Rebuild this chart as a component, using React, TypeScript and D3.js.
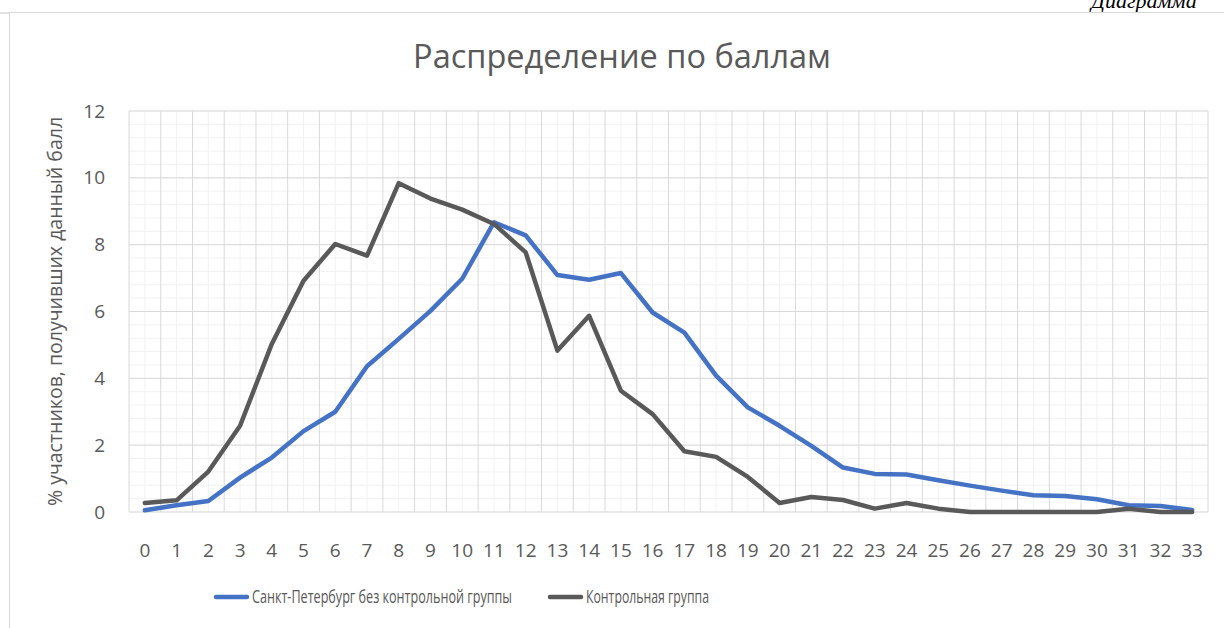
import React from "react";
import * as d3 from "d3";

const categories = Array.from({ length: 34 }, (_, i) => String(i));
const spbValues = [0.05, 0.2, 0.33, 1.03, 1.63, 2.42, 3.0, 4.36, 5.18, 6.02, 6.98, 8.67, 8.28, 7.09, 6.95, 7.15, 5.97, 5.37, 4.08, 3.13, 2.58, 1.98, 1.33, 1.14, 1.12, 0.95, 0.79, 0.64, 0.5, 0.48, 0.38, 0.2, 0.18, 0.06];
const controlValues = [0.27, 0.35, 1.21, 2.58, 5.03, 6.92, 8.02, 7.67, 9.84, 9.38, 9.05, 8.62, 7.77, 4.83, 5.87, 3.63, 2.93, 1.82, 1.65, 1.05, 0.27, 0.45, 0.36, 0.1, 0.27, 0.1, 0, 0, 0, 0, 0, 0.1, 0, 0];
const yTicks = [0, 2, 4, 6, 8, 10, 12];
const seriesNames = ["Санкт-Петербург без контрольной группы", "Контрольная группа"];
const seriesColors = ["#4472C4", "#595959"];

export default function App() {
  const W = 1224, H = 628;
  const left = 129, right = 1208, top = 111, bottom = 512;
  const x = d3.scaleBand<string>().domain(categories).range([left, right]);
  const y = d3.scaleLinear().domain([0, 12]).range([bottom, top]);
  const cx = (c: string) => (x(c) as number) + x.bandwidth() / 2;
  const line = d3.line<number>().x((_, i) => cx(categories[i])).y((d) => y(d));
  const minorY = d3.range(0, 12.0001, 0.4);
  const font = "'Open Sans', sans-serif";
  const textColor = "#595959";
  const legendX = [214, 548];
  const legendTextLen = [260, 123];

  return (
    <svg width={W} height={H} style={{ position: "absolute", left: 0, top: 0, background: "#fff" }}>
      <rect x={0} y={0} width={W} height={H} fill="#fff" />
      <text x={1091} y={8} fontFamily="'Liberation Serif', serif" fontStyle="italic" fontSize={22} fill="#000">Диаграмма</text>
      <line x1={0} x2={W} y1={13} y2={13} stroke="#d9d9d9" strokeWidth={1.5} />
      <rect x={9.5} y={12.5} width={W + 10} height={H} fill="#fff" stroke="#d9d9d9" strokeWidth={1} />
      <text x={622} y={68} textAnchor="middle" fontFamily={font} fontSize={32.5} fill={textColor}>Распределение по баллам</text>
      {minorY.map((v, i) => (
        <line key={"my" + i} x1={left} x2={right} y1={y(v)} y2={y(v)} stroke="#f2f2f2" strokeWidth={1} />
      ))}
      {categories.map((c) => (
        <line key={"mx" + c} x1={cx(c)} x2={cx(c)} y1={top} y2={bottom} stroke="#f2f2f2" strokeWidth={1} />
      ))}
      {yTicks.map((v) => (
        <line key={"gy" + v} x1={left} x2={right} y1={y(v)} y2={y(v)} stroke="#d9d9d9" strokeWidth={1} />
      ))}
      {categories.concat(["end"]).map((c, i) => {
        const xx = i < categories.length ? (x(c) as number) : right;
        return <line key={"gx" + i} x1={xx} x2={xx} y1={top} y2={bottom} stroke="#d9d9d9" strokeWidth={1} />;
      })}
      {yTicks.map((v) => (
        <text key={"yt" + v} x={105} y={y(v)} dy="0.35em" textAnchor="end" fontFamily={font} fontSize={19} fill={textColor}>{v}</text>
      ))}
      {categories.map((c) => (
        <text key={"xt" + c} x={cx(c)} y={550} dy="0.35em" textAnchor="middle" fontFamily={font} fontSize={19} fill={textColor}>{c}</text>
      ))}
      <text transform={`translate(62,${(top + bottom) / 2}) rotate(-90)`} textAnchor="middle" fontFamily={font} fontSize={19.5} fill={textColor}>% участников, получивших данный балл</text>
      <path d={line(spbValues) || ""} fill="none" stroke={seriesColors[0]} strokeWidth={4.5} strokeLinejoin="round" strokeLinecap="round" />
      <path d={line(controlValues) || ""} fill="none" stroke={seriesColors[1]} strokeWidth={4.5} strokeLinejoin="round" strokeLinecap="round" />
      {[0, 1].map((i) => {
        const lx = legendX[i];
        return (
          <g key={"lg" + i}>
            <line x1={lx + 2} x2={lx + 33} y1={597} y2={597} stroke={seriesColors[i]} strokeWidth={4.5} strokeLinecap="round" />
            <text x={lx + 38} y={597} dy="0.35em" fontFamily="'Open Sans', sans-serif" fontSize={18} textLength={legendTextLen[i]} lengthAdjust="spacingAndGlyphs" fill={textColor}>{seriesNames[i]}</text>
          </g>
        );
      })}
    </svg>
  );
}
